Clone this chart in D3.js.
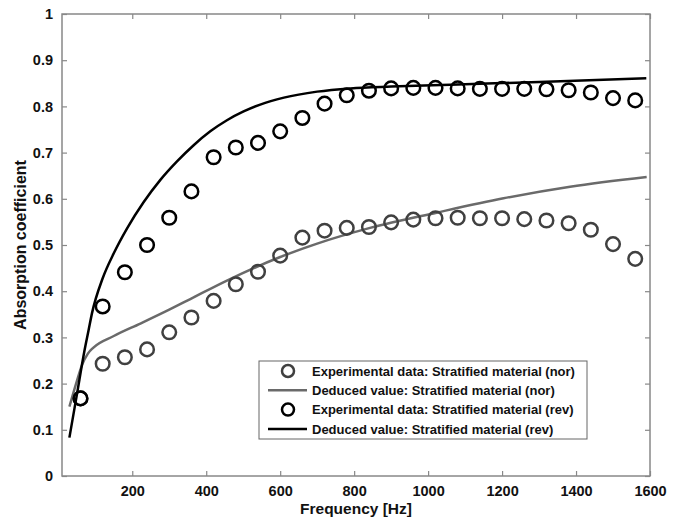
<!DOCTYPE html>
<html><head><meta charset="utf-8">
<script src="https://cdn.jsdelivr.net/npm/d3@7"></script>
<style>body{margin:0;background:#fff}svg{display:block;font-family:"Liberation Sans",Arial,sans-serif}</style>
</head><body>
<svg id="c" width="683" height="520"></svg>
<script>
// Experimental data (frequency in Hz)
const expFreq = [60,120,180,240,300,360,420,480,540,600,660,720,780,840,900,960,1020,1080,1140,1200,1260,1320,1380,1440,1500,1560];
const expNor = [0.168,0.243,0.257,0.274,0.311,0.343,0.379,0.415,0.442,0.477,0.516,0.531,0.537,0.539,0.549,0.555,0.558,0.559,0.558,0.558,0.556,0.553,0.547,0.533,0.502,0.470];
const expRev = [0.168,0.367,0.441,0.500,0.559,0.616,0.690,0.711,0.721,0.746,0.775,0.806,0.824,0.834,0.839,0.840,0.840,0.839,0.838,0.838,0.838,0.837,0.835,0.830,0.818,0.813];
// Deduced values
const dedNorFreq = [30,50,64,80,95,150,222,300,357,456,600,700,843,1023,1204,1384,1591];
const dedNor = [0.150,0.205,0.240,0.265,0.278,0.303,0.330,0.360,0.383,0.423,0.474,0.503,0.537,0.570,0.601,0.626,0.647];
const dedRevFreq = [30,50,70,82,91,120,150,186,231,276,321,366,411,456,501,546,610,700,790,900,1060,1300,1590];
const dedRev = [0.083,0.175,0.268,0.316,0.352,0.428,0.482,0.536,0.593,0.641,0.681,0.716,0.746,0.770,0.789,0.804,0.819,0.832,0.839,0.843,0.847,0.853,0.861];
const xTicks = [200,400,600,800,1000,1200,1400,1600];
const yTicks = [0,0.1,0.2,0.3,0.4,0.5,0.6,0.7,0.8,0.9,1];
const legendLabels = ["Experimental data: Stratified material (nor)","Deduced value: Stratified material (nor)","Experimental data: Stratified material (rev)","Deduced value: Stratified material (rev)"];

const L=62,T=14,R=650,B=476;
const svg=d3.select("#c");
const x=d3.scaleLinear().domain([10,1600]).range([L,R]);
const y=d3.scaleLinear().domain([0,1]).range([B,T]);
const axisCol="#888";
const grayLine="#6a6a6a", grayMark="#404040";

svg.append("rect").attr("x",L).attr("y",T).attr("width",R-L).attr("height",B-T).attr("fill","none").attr("stroke",axisCol).attr("stroke-width",1.5);

function styleAxis(g,labels){
  g.select(".domain").remove();
  g.selectAll(".tick line").attr("stroke",axisCol).attr("stroke-width",1.2);
  g.selectAll(".tick text").attr("fill","#111").attr("font-weight","bold").attr("font-size","14.5px").attr("font-family","'Liberation Sans',Arial,sans-serif");
  if(!labels) g.selectAll(".tick text").remove();
}
svg.append("g").attr("transform",`translate(0,${B})`).call(d3.axisBottom(x).tickValues(xTicks).tickSize(-5).tickPadding(10).tickFormat(d3.format("d"))).call(g=>styleAxis(g,true));
svg.append("g").attr("transform",`translate(0,${T})`).call(d3.axisTop(x).tickValues(xTicks).tickSize(-5)).call(g=>styleAxis(g,false));
svg.append("g").attr("transform",`translate(${L},0)`).call(d3.axisLeft(y).tickValues(yTicks).tickSize(-5).tickPadding(9).tickFormat(d=>d3.format("~g")(d))).call(g=>styleAxis(g,true));
svg.append("g").attr("transform",`translate(${R},0)`).call(d3.axisRight(y).tickValues(yTicks).tickSize(-5)).call(g=>styleAxis(g,false));

const line=d3.line().x(d=>x(d[0])).y(d=>y(d[1])).curve(d3.curveMonotoneX);
svg.append("path").datum(dedNorFreq.map((f,i)=>[f,dedNor[i]])).attr("d",line).attr("fill","none").attr("stroke",grayLine).attr("stroke-width",2.5);
svg.append("g").selectAll("circle").data(expFreq.map((f,i)=>[f,expNor[i]])).join("circle")
  .attr("cx",d=>x(d[0])).attr("cy",d=>y(d[1])).attr("r",6.8).attr("fill","none").attr("stroke",grayMark).attr("stroke-width",2.5);
svg.append("path").datum(dedRevFreq.map((f,i)=>[f,dedRev[i]])).attr("d",line).attr("fill","none").attr("stroke","#000").attr("stroke-width",2.5);
svg.append("g").selectAll("circle").data(expFreq.map((f,i)=>[f,expRev[i]])).join("circle")
  .attr("cx",d=>x(d[0])).attr("cy",d=>y(d[1])).attr("r",6.8).attr("fill","none").attr("stroke","#000").attr("stroke-width",2.5);

svg.append("text").attr("x",(L+R)/2).attr("y",514).attr("text-anchor","middle").attr("font-weight","bold").attr("font-size","15.5px").attr("fill","#111").text("Frequency [Hz]");
svg.append("text").attr("transform",`translate(26,${(T+B)/2}) rotate(-90)`).attr("text-anchor","middle").attr("font-weight","bold").attr("font-size","16px").attr("fill","#111").text("Absorption coefficient");

const lg=svg.append("g");
lg.append("rect").attr("x",259).attr("y",361).attr("width",328).attr("height",78).attr("fill","#fff").attr("stroke","#666").attr("stroke-width",1);
const kinds=[["c",grayMark],["l",grayLine],["c","#000"],["l","#000"]];
legendLabels.forEach((t,i)=>{
  const yy=371+i*19.3;
  const k=kinds[i];
  if(k[0]==="c") lg.append("circle").attr("cx",288).attr("cy",yy).attr("r",6).attr("fill","none").attr("stroke",k[1]).attr("stroke-width",2.5);
  else lg.append("line").attr("x1",268).attr("x2",307).attr("y1",yy).attr("y2",yy).attr("stroke",k[1]).attr("stroke-width",2.5);
  lg.append("text").attr("x",312).attr("y",yy).attr("dy","0.36em").attr("font-weight","bold").attr("font-size","13px").attr("fill","#111").text(t);
});
</script>
</body></html>
